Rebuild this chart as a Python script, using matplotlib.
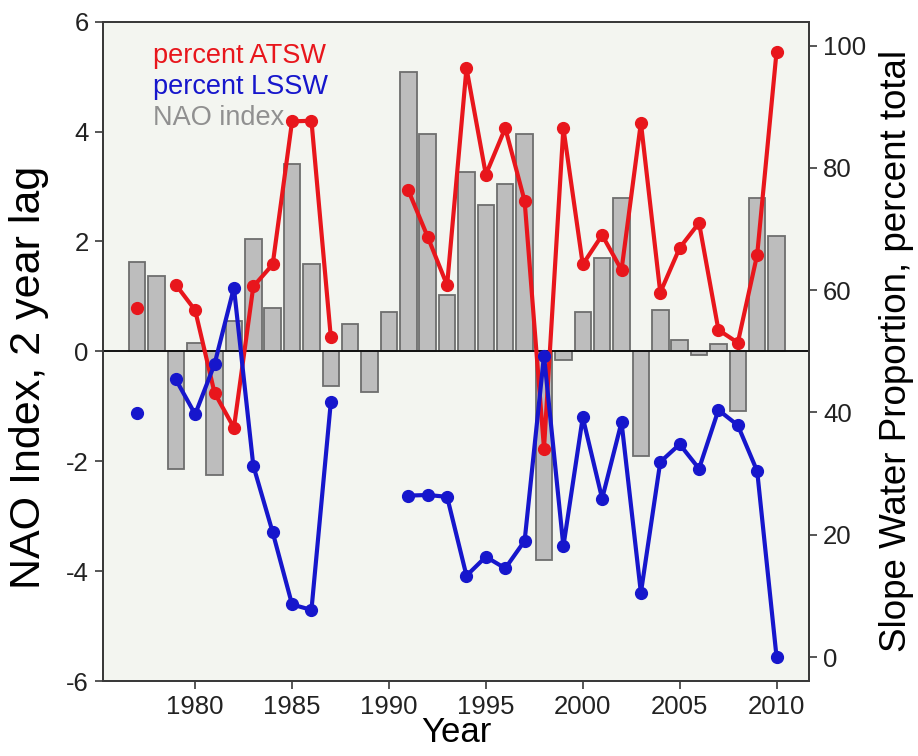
import numpy as np
import matplotlib
matplotlib.use("Agg")
import matplotlib.pyplot as plt

plt.rcParams['font.family'] = ['Liberation Sans', 'DejaVu Sans']
plt.rcParams['axes.unicode_minus'] = False

years = list(range(1977, 2011))

# NAO index with a 2-year lag (bars, left axis)
nao_index = [1.62, 1.37, -2.15, 0.16, -2.25, 0.55, 2.05, 0.79, 3.41, 1.59,
             -0.63, 0.50, -0.74, 0.71, 5.09, 3.96, 1.03, 3.27, 2.67, 3.04,
             3.96, -3.79, -0.16, 0.71, 1.70, 2.79, -1.91, 0.76, 0.20, -0.07,
             0.14, -1.09, 2.79, 2.10]

# Slope water proportions, percent of total (lines, right axis)
nan = np.nan
pct_atsw = [57.0, nan, 60.9, 56.7, 43.2, 37.5, 60.6, 64.2, 87.6, 87.7,
            52.3, nan, nan, nan, 76.3, 68.7, 60.8, 96.3, 78.9, 86.5,
            74.6, 34.1, 86.5, 64.2, 69.0, 63.3, 87.4, 59.6, 66.9, 71.0,
            53.5, 51.4, 65.8, 99.0]
pct_lssw = [39.9, nan, 45.4, 39.7, 47.9, 60.4, 31.3, 20.4, 8.6, 7.7,
            41.7, nan, nan, nan, 26.4, 26.5, 26.2, 13.3, 16.4, 14.5,
            19.0, 49.3, 18.1, 39.2, 25.9, 38.4, 10.5, 31.9, 34.8, 30.8,
            40.4, 37.9, 30.4, 0.0]

xticks = [1980, 1985, 1990, 1995, 2000, 2005, 2010]
left_ticks = [-6, -4, -2, 0, 2, 4, 6]
right_ticks = [0, 20, 40, 60, 80, 100]

red = '#e8161c'
blue = '#1616cc'
spine_col = '#3a3a3a'

fig = plt.figure(figsize=(9.18, 7.56), dpi=100)
ax = fig.add_axes([0.1119, 0.0992, 0.7697, 0.8721])
ax.set_facecolor('#f3f5f0')

ax.bar(years, nao_index, width=0.85, color='#bdbdbd', edgecolor='#6e6e6e',
       linewidth=1.3, zorder=2)
ax.axhline(0, color='#111111', linewidth=1.4, zorder=3)

ax.set_xlim(1975.23, 2011.69)
ax.set_ylim(-6, 6)
ax.set_xticks(xticks)
ax.set_yticks(left_ticks)
ax.set_xlabel('Year', fontsize=25, labelpad=-2)
ax.set_ylabel('NAO Index, 2 year lag', fontsize=31)
ax.yaxis.set_label_coords(-0.076, 0.46)

ax2 = ax.twinx()
ax2.set_ylim(-3.92, 103.9)
ax2.set_yticks(right_ticks)
ax2.set_ylabel('Slope Water Proportion, percent total', fontsize=26.5,
               labelpad=9)

ax2.plot(years, pct_atsw, color=red, linewidth=3.0, marker='o',
         markersize=8.5, zorder=4)
ax2.plot(years, pct_lssw, color=blue, linewidth=3.0, marker='o',
         markersize=8.5, zorder=4)

for a in (ax, ax2):
    for s in a.spines.values():
        s.set_color(spine_col)
        s.set_linewidth(1.4)
    a.tick_params(direction='out', length=6, width=1.2, color=spine_col,
                  labelsize=18.5, labelcolor='#222222', pad=4)

ax.text(0.071, 0.948, 'percent ATSW', color=red, fontsize=19.5,
        transform=ax.transAxes, va='center', ha='left')
ax.text(0.071, 0.901, 'percent LSSW', color=blue, fontsize=19.5,
        transform=ax.transAxes, va='center', ha='left')
ax.text(0.071, 0.854, 'NAO index', color='#909090', fontsize=19.5,
        transform=ax.transAxes, va='center', ha='left')

fig.savefig('out.png', dpi=100, facecolor='white')
